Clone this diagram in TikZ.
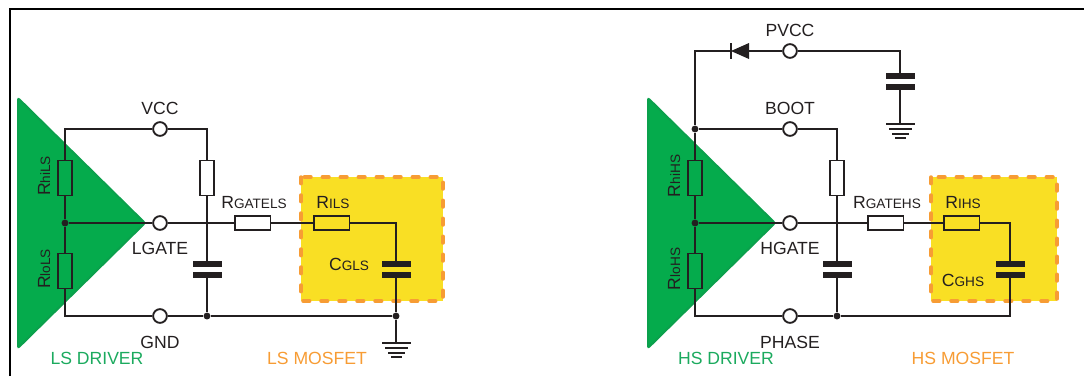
\documentclass[tikz,border=0pt]{standalone}
\usepackage{fontspec}
\setmainfont{Liberation Sans}
\definecolor{drvgreen}{HTML}{05AB4C}
\definecolor{drvedge}{HTML}{0BA04C}
\definecolor{lblgreen}{HTML}{1BAA5E}
\definecolor{mosorange}{HTML}{F79C34}
\definecolor{mosyellow}{HTML}{F9DF24}
\definecolor{ink}{HTML}{231F20}
\newcommand{\biglbl}[2]{{\fontsize{13.2}{13.2}\selectfont #1}{\fontsize{10.2}{10.2}\selectfont #2}}
\begin{document}
\begin{tikzpicture}[
                x = 0.75pt,
                y = -0.75pt,
             wire/.style = {draw=ink, line width=1.4pt},
             term/.style = {circle, draw=ink, fill=white, line width=1.4pt, minimum size=10.3pt, inner sep=0pt},
              jct/.style = {circle, fill=ink, minimum size=5.2pt, inner sep=0pt},
             hres/.style = {rectangle, draw=ink, line width=1.3pt, minimum width=26.8pt, minimum height=10.2pt, inner sep=0pt},
             vres/.style = {rectangle, draw=ink, line width=1.3pt, minimum width=10.5pt, minimum height=26.2pt, inner sep=0pt},
            plate/.style = {rectangle, fill=ink, minimum width=21.75pt, minimum height=4.5pt, inner sep=0pt},
             gbar/.style = {rectangle, fill=ink, minimum height=1.5pt, inner sep=0pt},
              lbl/.style = {anchor=base, inner sep=0pt, text=ink, font=\fontsize{13.2}{13.2}\selectfont},
           mosbox/.style = {fill=mosyellow, draw=mosorange, line width=2.6pt, line cap=round, dash pattern=on 5pt off 8.5pt},
           driver/.style = {fill=drvgreen, draw=drvedge, line width=1.5pt, rounded corners=1.5pt},
            ]
    \useasboundingbox (0,0) rectangle (1084,376);
    \draw[line width=1.7pt] (10,376) -- (10,9) -- (1084,9);

    % one driver and its gate loop per side
    \foreach \s/\dx/\tname/\gname/\bname/\rgx/\rix/\cx/\bxa/\bxb in {%
        LS/0/VCC/LGATE/GND/252.5/331.5/396/301/443,%
        HS/630/BOOT/HGATE/PHASE/885.5/961.5/1010/931/1057}{%
        \draw[mosbox] (\bxa,177) rectangle (\bxb,301);
        \draw[driver] (\dx+18,98) -- (\dx+145,223) -- (\dx+18,348) -- cycle;

        \node[term] (top\s) at (\dx+160,129) {};
        \node[term] (gate\s) at (\dx+160,223) {};
        \node[term] (bot\s) at (\dx+160,316) {};
        \node[jct] (mid\s) at (\dx+65,223) {};
        \node[jct] (gnd\s) at (\dx+207,316) {};
        \node[vres] (rhi\s) at (\dx+65,178) {};
        \node[vres] (rlo\s) at (\dx+65,271) {};
        \node[vres] (rboot\s) at (\dx+207,178) {};
        \node[hres] (rgate\s) at (\rgx,223) {};
        \node[hres] (ri\s) at (\rix,223) {};
        \node[plate] (cba\s) at (\dx+207,264) {};
        \node[plate] (cbb\s) at (\dx+207,275) {};
        \node[plate] (cga\s) at (\cx,264) {};
        \node[plate] (cgb\s) at (\cx,275) {};

        \draw[wire] (top\s.east) -| (rboot\s.north);
        \draw[wire] (rboot\s.south) -- (cba\s.north);
        \draw[wire] (cbb\s.south) -- (gnd\s);
        \draw[wire] (rhi\s.south) -- (mid\s);
        \draw[wire] (mid\s) -- (rlo\s.north);
        \draw[wire] (rlo\s.south) |- (bot\s.west);
        \draw[wire] (bot\s.east) -- (gnd\s);
        \draw[wire] (mid\s) -- (gate\s.west);
        \draw[wire] (gate\s.east) -- (rgate\s.west);
        \draw[wire] (rgate\s.east) -- (ri\s.west);
        \draw[wire] (ri\s.east) -| (cga\s.north);

        \node[lbl] (lbltop\s) at (\dx+160,114) {\tname};
        \node[lbl] (lblgate\s) at (\dx+160,254) {\gname};
        \node[lbl] (lblbot\s) at (\dx+160,348) {\bname};
    }

    % ground symbols
    \foreach \g/\gx/\gy in {groundLS/396/343, groundHS/900/124}{%
        \foreach \i/\w in {0/29,1/23,2/17,3/11}{%
            \node[gbar, minimum width=\w*0.75pt] (\g\i) at (\gx,\gy+\i*4.8) {};
        }
    }

    % low side
    \node[jct] (gndcLS) at (396,316) {};
    \draw[wire] (topLS.west) -| (rhiLS.north);
    \draw[wire] (gndLS) -- (gndcLS);
    \draw[wire] (cgbLS.south) -- (gndcLS);
    \draw[wire] (gndcLS) -- (groundLS0.north);

    % high side
    \node[term] (pvcc) at (790,51) {};
    \node[jct] (bootjct) at (695,129) {};
    \node[plate] (cpa) at (900,76) {};
    \node[plate] (cpb) at (900,87) {};
    \coordinate (diodeA) at (749,51);
    \coordinate (diodeK) at (731,51);
    \fill[ink] (diodeA) ++(0,-8) -- ++(0,16) -- (diodeK) -- cycle;
    \draw[ink, line width=1.3pt] (diodeK) ++(0,-8) -- ++(0,16);
    \draw[wire] (pvcc.west) -- (diodeA);
    \draw[wire] (diodeK) -| (bootjct);
    \draw[wire] (pvcc.east) -| (cpa.north);
    \draw[wire] (cpb.south) -- (groundHS0.north);
    \draw[wire] (topHS.west) -- (bootjct);
    \draw[wire] (bootjct) -- (rhiHS.north);
    \draw[wire] (gndHS) -| (cgbHS.south);

    % part labels
    \node[lbl] (lblpvcc) at (790,36) {PVCC};
    \foreach \n/\t/\xx/\yy in {%
        a/{\biglbl{R}{GATELS}}/254/208, b/{\biglbl{R}{ILS}}/333/208, c/{\biglbl{C}{GLS}}/349/270,%
        d/{\biglbl{R}{GATEHS}}/887/208, e/{\biglbl{R}{IHS}}/963/208, f/{\biglbl{C}{GHS}}/963/286}{%
        \node[lbl] (part\n) at (\xx,\yy) {\t};
    }
    \foreach \n/\t/\xx/\yy in {%
        a/{\biglbl{R}{hiLS}}/50/176, b/{\biglbl{R}{loLS}}/50/269,%
        c/{\biglbl{R}{hiHS}}/680/176, d/{\biglbl{R}{loHS}}/680/269}{%
        \node[lbl, rotate=90] (vpart\n) at (\xx,\yy) {\t};
    }
    \node[lbl, text=lblgreen] (drvLS) at (97,364) {LS DRIVER};
    \node[lbl, text=lblgreen] (drvHS) at (726,364) {HS DRIVER};
    \node[lbl, text=mosorange] (mosLS) at (317,364) {LS MOSFET};
    \node[lbl, text=mosorange] (mosHS) at (963,364) {HS MOSFET};
\end{tikzpicture}
\end{document}
